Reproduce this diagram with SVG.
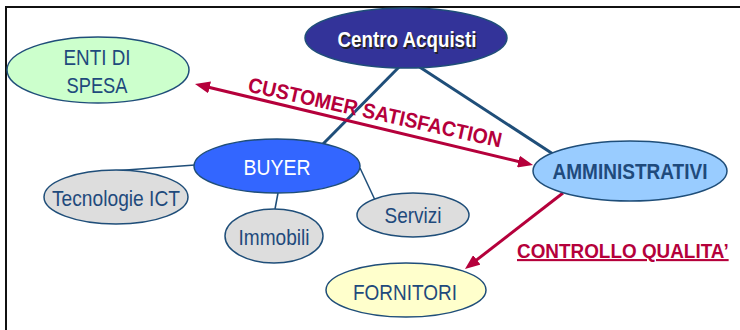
<svg xmlns="http://www.w3.org/2000/svg" width="740" height="330" viewBox="0 0 740 330">
<style>
.node{stroke:#1f4e79;stroke-width:1.5}
.lbl{font-family:"Liberation Sans",Arial,sans-serif;font-size:22px;fill:#1f4a7c;text-anchor:middle}
.conn{stroke:#1f4e79;fill:none}
.red{stroke:#b5003b;stroke-width:3;fill:none}
.rlbl{font-family:"Liberation Sans",Arial,sans-serif;font-weight:bold;font-size:21px;fill:#b5003b}
</style>
<defs>
<marker id="ah" viewBox="0 0 10 8" markerWidth="5" markerHeight="4" refX="5" refY="4" orient="auto-start-reverse" markerUnits="strokeWidth">
<path d="M0,0 L10,4 L0,8 z" fill="#b5003b"/>
</marker>
</defs>
<rect width="740" height="330" fill="#ffffff"/>
<path d="M6,330 L6,7 L740,7" fill="none" stroke="#111" stroke-width="2"/>
<g id="connectors">
<line class="conn" stroke-width="3" x1="405" y1="61" x2="323" y2="144"/>
<line class="conn" stroke-width="3" x1="415" y1="64" x2="553" y2="154"/>
<line class="conn" stroke-width="1.5" x1="195" y1="165" x2="112" y2="171"/>
<line class="conn" stroke-width="1.5" x1="278" y1="193" x2="275" y2="209"/>
<line class="conn" stroke-width="1.5" x1="360" y1="168" x2="375" y2="200"/>
<line class="red" x1="202.3" y1="85.7" x2="525.7" y2="163.3" marker-start="url(#ah)" marker-end="url(#ah)"/>
<line class="red" x1="563" y1="193" x2="470.9" y2="264.4" marker-end="url(#ah)"/>
<text class="rlbl" x="373.5" y="119.5" text-anchor="middle" textLength="259" lengthAdjust="spacingAndGlyphs" transform="rotate(12.5 373.5 119.5)">CUSTOMER SATISFACTION</text>
<text class="rlbl" x="0" y="0" transform="translate(517 258) scale(0.9 1)" text-decoration="underline">CONTROLLO QUALITA’</text>
</g>
<g id="centro">
<ellipse class="node" cx="406" cy="38" rx="101" ry="30" fill="#333399"/>
<text class="lbl" x="408.5" y="48.5" font-weight="bold" font-size="20" style="fill:#222" textLength="139" lengthAdjust="spacingAndGlyphs">Centro Acquisti</text>
<text class="lbl" x="407" y="47" font-weight="bold" font-size="20" style="fill:#ffffff" textLength="139" lengthAdjust="spacingAndGlyphs">Centro Acquisti</text>
</g>
<g id="enti">
<ellipse class="node" cx="98" cy="70" rx="91" ry="33" fill="#ccffcc"/>
<text class="lbl" x="97" y="65" textLength="67" lengthAdjust="spacingAndGlyphs">ENTI DI</text>
<text class="lbl" x="97" y="93" textLength="61" lengthAdjust="spacingAndGlyphs">SPESA</text>
</g>
<g id="buyer">
<ellipse class="node" cx="277" cy="166" rx="83" ry="27" fill="#3366ff"/>
<text class="lbl" x="277" y="175" font-size="23" style="fill:#ffffff" textLength="67" lengthAdjust="spacingAndGlyphs">BUYER</text>
</g>
<g id="tecnologie">
<ellipse class="node" cx="116" cy="197" rx="72" ry="27" fill="#dddddd"/>
<text class="lbl" x="116" y="206" textLength="128" lengthAdjust="spacingAndGlyphs">Tecnologie ICT</text>
</g>
<g id="immobili">
<ellipse class="node" cx="274" cy="236" rx="49" ry="27" fill="#dddddd"/>
<text class="lbl" x="274" y="245" textLength="71" lengthAdjust="spacingAndGlyphs">Immobili</text>
</g>
<g id="servizi">
<ellipse class="node" cx="413" cy="215" rx="56" ry="22" fill="#dddddd"/>
<text class="lbl" x="413" y="223" textLength="57" lengthAdjust="spacingAndGlyphs">Servizi</text>
</g>
<g id="amministrativi">
<ellipse class="node" cx="630" cy="171" rx="97" ry="30" fill="#99ccff"/>
<text class="lbl" x="630" y="179" font-weight="bold" font-size="22" textLength="155" lengthAdjust="spacingAndGlyphs">AMMINISTRATIVI</text>
</g>
<g id="fornitori">
<ellipse class="node" cx="406" cy="290" rx="80" ry="27" fill="#ffffcc"/>
<text class="lbl" x="405" y="300" textLength="104" lengthAdjust="spacingAndGlyphs">FORNITORI</text>
</g>
</svg>
